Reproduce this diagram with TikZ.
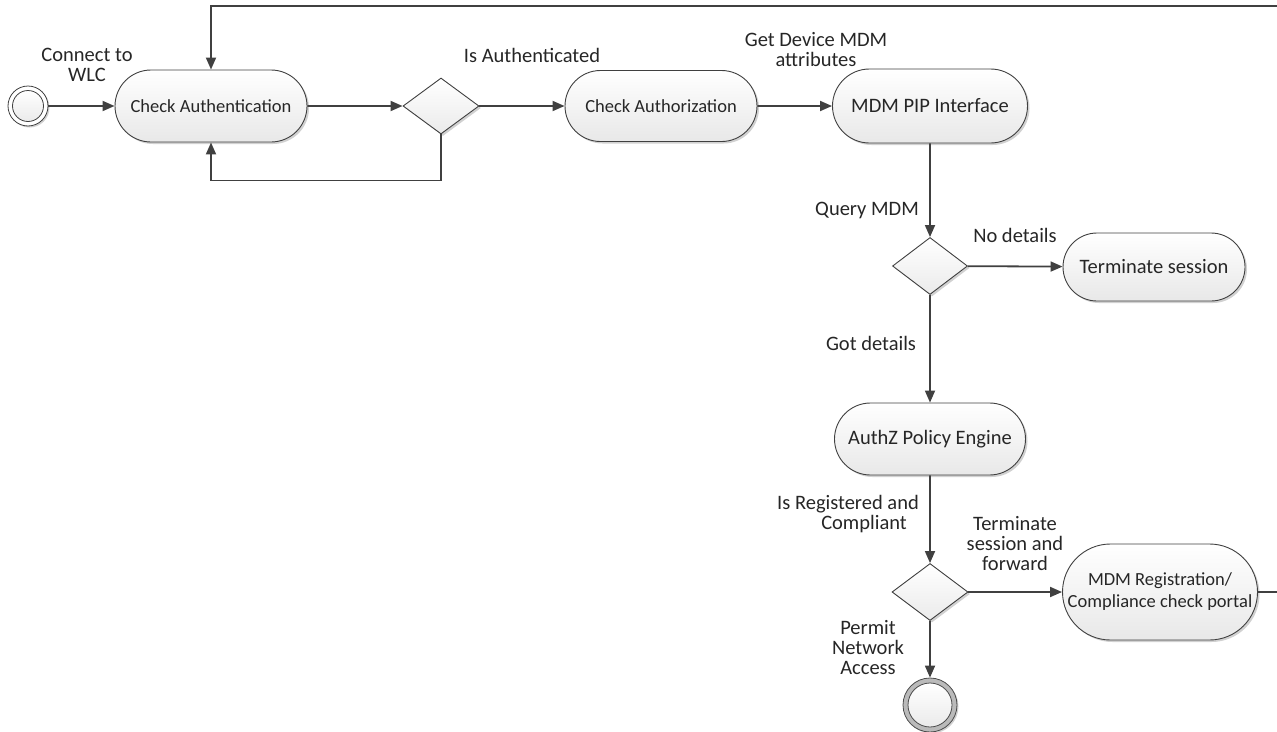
\documentclass[tikz,border=0pt]{standalone}
\usepackage{fontspec}
\setmainfont{Carlito}
\usetikzlibrary{arrows.meta,shapes.geometric,shapes.misc,shadows}

\begin{document}
\begin{tikzpicture}[x=1pt,y=-1pt,
  every node/.style={font=\fontsize{20.5}{20}\selectfont, text=black!85},
  small/.style={font=\fontsize{18.5}{20}\selectfont},
  act/.style={rounded rectangle, draw=black!75, line width=0.9pt,
    top color=white, bottom color=black!9, inner sep=0pt,
    drop shadow={shadow xshift=2pt, shadow yshift=-2pt, opacity=0.18, fill=black}},
  dec/.style={diamond, draw=black!75, line width=0.9pt,
    top color=white, bottom color=black!8, inner sep=0pt,
    drop shadow={shadow xshift=2pt, shadow yshift=-2pt, opacity=0.18, fill=black}},
  flow/.style={draw=black!75, line width=1.8pt,
    -{Triangle[length=12pt,width=10pt]}},
  plain/.style={draw=black!75, line width=1.8pt},
  lbl/.style={align=center}
]
\useasboundingbox (0,0) rectangle (1277,731);

% initial and final states
\node (start) [circle, minimum size=40pt, inner sep=0pt, draw=black!75,
  line width=0.8pt, fill=white,
  drop shadow={shadow xshift=1.5pt, shadow yshift=-1.5pt, opacity=0.18, fill=black}] at (28,106) {};
\node (startin) [circle, minimum size=31pt, inner sep=0pt, draw=black!75,
  line width=0.8pt, top color=white, bottom color=black!8] at (start.center) {};

\node (stop) [circle, minimum size=54pt, inner sep=0pt, draw=black!70,
  line width=0.8pt, fill=black!27,
  drop shadow={shadow xshift=1.5pt, shadow yshift=-1.5pt, opacity=0.18, fill=black}] at (930,705) {};
\node (stopin) [circle, minimum size=44pt, inner sep=0pt, draw=black!70,
  line width=0.8pt, top color=white, bottom color=black!8] at (stop.center) {};

% activities
\node (auth)   [act, small, minimum width=192pt, minimum height=72pt] at (211,106) {Check Authentication};
\node (authz)  [act, small, minimum width=192pt, minimum height=71pt] at (661,106) {Check Authorization};
\node (pip)    [act, minimum width=195pt, minimum height=74pt] at (930,106) {MDM PIP Interface};
\node (term)   [act, minimum width=182pt, minimum height=68pt] at (1154,267) {Terminate session};
\node (engine) [act, minimum width=191pt, minimum height=72pt] at (930,439) {AuthZ Policy Engine};
\node (reg)    [act, small, align=center, minimum width=195pt, minimum height=96pt] at (1160,592)
  {MDM Registration/\\[2pt]Compliance check portal};

% decisions
\node (d1) [dec, minimum width=76pt, minimum height=56pt] at (441,106) {};
\node (d2) [dec, minimum width=75pt, minimum height=57pt] at (930,266) {};
\node (d3) [dec, minimum width=76pt, minimum height=57pt] at (930,592) {};

% loose ends running off the right edge
\coordinate (topright) at (1280,6);
\coordinate (regout) at (1280,592);

% connectors
\draw[flow] (start) -- (auth);
\draw[flow] (auth) -- (d1);
\draw[flow] (d1.south) -- ++(0,46) -| (auth.south);
\draw[flow] (topright) -| (auth.north);
\draw[flow] (d1) -- (authz);
\draw[flow] (authz) -- (pip);
\draw[flow] (pip) -- (d2);
\draw[flow] (d2) -- (term);
\draw[flow] (d2) -- (engine);
\draw[flow] (engine) -- (d3);
\draw[flow] (d3) -- (reg);
\draw[flow] (d3) -- (stop);
\draw[plain] (reg) -- (regout);

% labels
\node (lconnect) [lbl] at (87,65) {Connect to\\WLC};
\node (lisauth)  [lbl] at (532,55) {Is Authenticated};
\node (lget)     [lbl] at (816,50) {Get Device MDM\\attributes};
\node (lquery)   [lbl] at (867,210) {Query MDM};
\node (lnodet)   [lbl] at (1015,235) {No details};
\node (lgot)     [lbl] at (871,343) {Got details};
\node (lreg)     [align=right] at (848,514) {Is Registered and\\Compliant\hspace*{12pt}};
\node (lfwd)     [lbl] at (1015,544) {Terminate\\session and\\forward};
\node (lpermit)  [lbl] at (868,648) {Permit\\Network\\Access};
\end{tikzpicture}
\end{document}
